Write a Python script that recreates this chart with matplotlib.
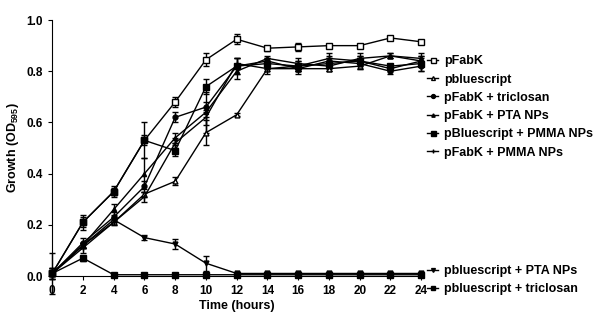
import matplotlib
matplotlib.use("Agg")
import matplotlib.pyplot as plt

plt.rcParams['font.family'] = ['Liberation Sans', 'DejaVu Sans']
plt.rcParams['font.weight'] = 'bold'
plt.rcParams['mathtext.fontset'] = 'custom'
plt.rcParams['mathtext.rm'] = 'Liberation Sans:bold'
plt.rcParams['mathtext.bf'] = 'Liberation Sans:bold'

hours = [0, 2, 4, 6, 8, 10, 12, 14, 16, 18, 20, 22, 24]

pfabk = [0.01, 0.21, 0.33, 0.53, 0.68, 0.845, 0.925, 0.89, 0.895, 0.90, 0.90, 0.93, 0.915]
pfabk_err = [0.01, 0.02, 0.015, 0.02, 0.02, 0.025, 0.02, 0.01, 0.015, 0.005, 0.005, 0.005, 0.005]

pblue = [0.01, 0.12, 0.21, 0.32, 0.37, 0.56, 0.63, 0.81, 0.81, 0.81, 0.82, 0.86, 0.84]
pblue_err = [0.01, 0.01, 0.01, 0.01, 0.015, 0.05, 0.005, 0.01, 0.01, 0.01, 0.01, 0.01, 0.01]

pfabk_tric = [0.01, 0.13, 0.23, 0.35, 0.62, 0.66, 0.82, 0.84, 0.81, 0.84, 0.83, 0.80, 0.82]
pfabk_tric_err = [0.02, 0.02, 0.02, 0.02, 0.02, 0.02, 0.03, 0.01, 0.02, 0.02, 0.02, 0.01, 0.02]

pfabk_pta = [0.01, 0.12, 0.26, 0.40, 0.54, 0.64, 0.80, 0.85, 0.83, 0.82, 0.85, 0.86, 0.85]
pfabk_pta_err = [0.02, 0.01, 0.02, 0.06, 0.02, 0.08, 0.03, 0.01, 0.02, 0.02, 0.02, 0.01, 0.02]

pblue_pmma = [0.01, 0.21, 0.33, 0.53, 0.49, 0.74, 0.82, 0.83, 0.82, 0.83, 0.84, 0.82, 0.83]
pblue_pmma_err = [0.08, 0.03, 0.02, 0.07, 0.02, 0.03, 0.03, 0.02, 0.02, 0.02, 0.02, 0.01, 0.03]

pfabk_pmma = [0.01, 0.11, 0.21, 0.31, 0.52, 0.62, 0.83, 0.81, 0.82, 0.85, 0.84, 0.81, 0.84]
pfabk_pmma_err = [0.02, 0.02, 0.01, 0.02, 0.02, 0.03, 0.02, 0.02, 0.02, 0.02, 0.02, 0.01, 0.02]

pblue_pta = [0.01, 0.12, 0.22, 0.15, 0.125, 0.05, 0.01, 0.01, 0.01, 0.01, 0.01, 0.01, 0.01]
pblue_pta_err = [0.01, 0.01, 0.01, 0.01, 0.02, 0.03, 0.005, 0.005, 0.005, 0.005, 0.005, 0.005, 0.005]

pblue_tric = [0.01, 0.07, 0.005, 0.005, 0.005, 0.005, 0.005, 0.005, 0.005, 0.005, 0.005, 0.005, 0.005]
pblue_tric_err = [0.01, 0.01, 0.003, 0.003, 0.003, 0.003, 0.003, 0.003, 0.003, 0.003, 0.003, 0.003, 0.003]

fig = plt.figure(figsize=(6, 3.18), dpi=100)
ax = fig.add_axes([0.087, 0.132, 0.615, 0.805])

def draw(y, err, marker, mfc, ms, label):
    eb = ax.errorbar(hours, y, yerr=err, color='black', lw=1, marker=marker,
                     mfc=mfc, mec='black', ms=ms, capsize=2.5, elinewidth=1,
                     clip_on=False, label=label, zorder=3)
    return eb[0]

h1 = draw(pfabk, pfabk_err, 's', 'white', 4.5, 'pFabK')
h2 = draw(pblue, pblue_err, '^', 'white', 3.5, 'pbluescript')
h3 = draw(pfabk_tric, pfabk_tric_err, 'o', 'black', 3.5, 'pFabK + triclosan')
h4 = draw(pfabk_pta, pfabk_pta_err, '^', 'black', 3, 'pFabK + PTA NPs')
h5 = draw(pblue_pmma, pblue_pmma_err, 's', 'black', 4.5, 'pBluescript + PMMA NPs')
h6 = draw(pfabk_pmma, pfabk_pmma_err, '+', 'black', 4, 'pFabK + PMMA NPs')
h7 = draw(pblue_pta, pblue_pta_err, 'v', 'black', 3.5, 'pbluescript + PTA NPs')
h8 = draw(pblue_tric, pblue_tric_err, 's', 'black', 4, 'pbluescript + triclosan')

ax.set_xlim(0, 24)
ax.set_ylim(0, 1.0)
ax.set_xticks(range(0, 25, 2))
ax.set_yticks([0.0, 0.2, 0.4, 0.6, 0.8, 1.0])
ax.set_yticklabels(['0.0', '0.2', '0.4', '0.6', '0.8', '1.0'])
ax.spines['top'].set_visible(False)
ax.spines['right'].set_visible(False)
ax.tick_params(direction='out', length=3, labelsize=8.5)
for lab in ax.get_xticklabels() + ax.get_yticklabels():
    lab.set_fontweight('bold')
ax.set_xlabel('Time (hours)', fontsize=9, fontweight='bold', labelpad=2)
ax.set_ylabel(r'Growth (OD$_{595}$)', fontsize=9, fontweight='bold')

leg_kw = dict(frameon=False, handlelength=0.9, handletextpad=0.45,
              borderpad=0, borderaxespad=0, labelspacing=0.5,
              prop={'weight': 'bold', 'size': 9}, markerscale=0.8)
fig.legend([h1, h2, h3, h4, h5, h6],
           ['pFabK', 'pbluescript', 'pFabK + triclosan', 'pFabK + PTA NPs',
            'pBluescript + PMMA NPs', 'pFabK + PMMA NPs'],
           loc='upper left', bbox_to_anchor=(0.712, 0.826), **leg_kw)
fig.legend([h7, h8], ['pbluescript + PTA NPs', 'pbluescript + triclosan'],
           loc='upper left', bbox_to_anchor=(0.712, 0.166), **leg_kw)

fig.savefig('out.png', dpi=100)
